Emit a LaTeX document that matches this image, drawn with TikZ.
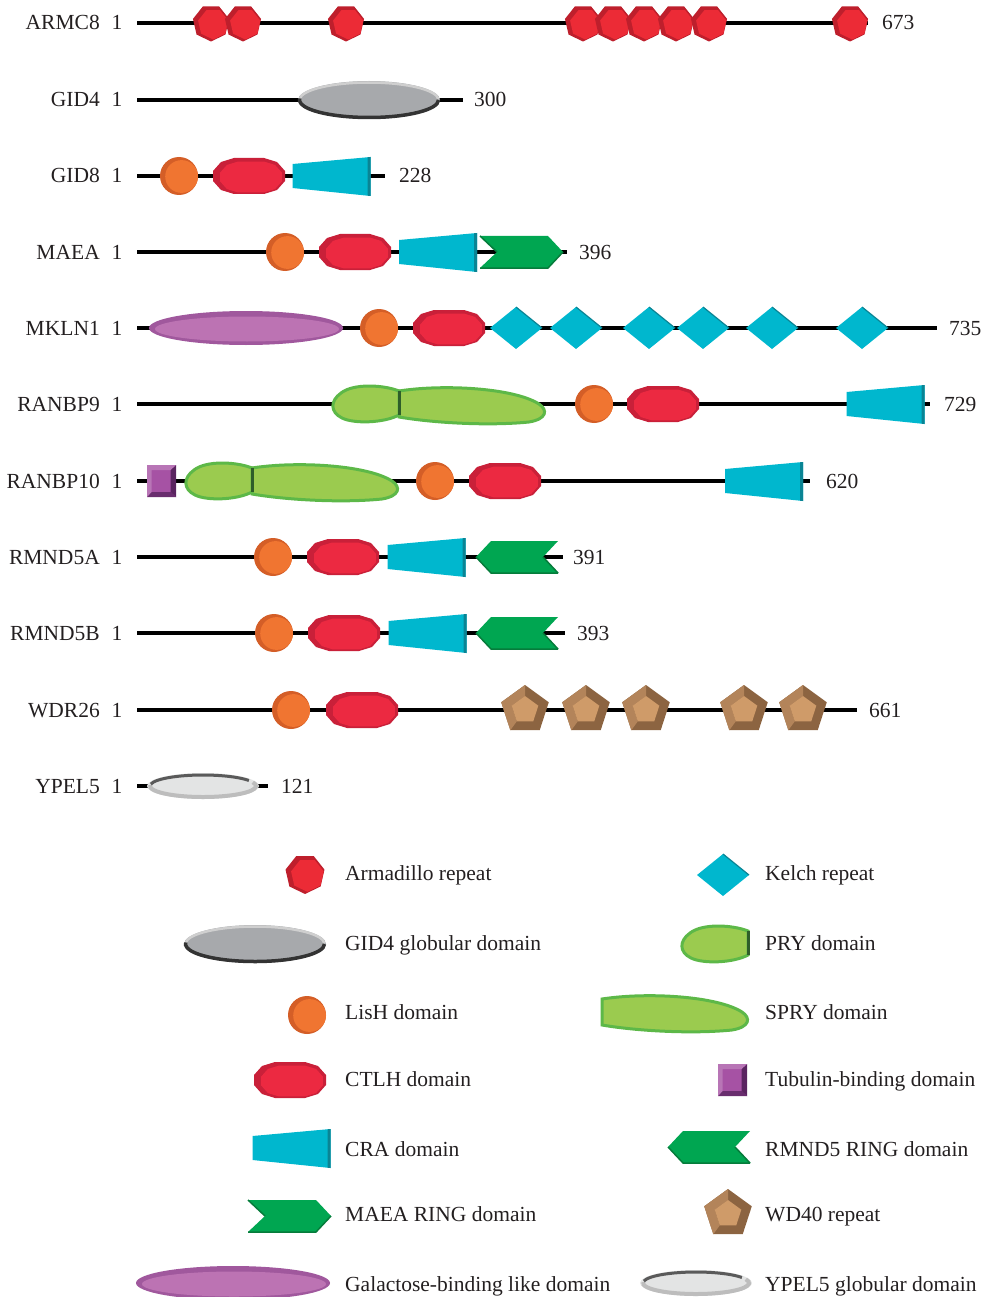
\documentclass[tikz,border=0pt]{standalone}
\usepackage{fontspec}
\setmainfont{Liberation Serif}
\definecolor{txt}{HTML}{231F20}
\definecolor{armc}{HTML}{EC2B36}
\definecolor{armdk}{HTML}{BE1F2C}
\definecolor{lishc}{HTML}{F07531}
\definecolor{lishdk}{HTML}{D45E27}
\definecolor{ctlhc}{HTML}{EC2941}
\definecolor{ctlhdk}{HTML}{C92039}
\definecolor{crac}{HTML}{00B7CE}
\definecolor{cradk}{HTML}{0A8494}
\definecolor{grn}{HTML}{00A651}
\definecolor{grndk}{HTML}{067C3B}
\definecolor{pur}{HTML}{BC73B3}
\definecolor{purdk}{HTML}{A0589D}
\definecolor{lgrn}{HTML}{9BCB4F}
\definecolor{lgrnedge}{HTML}{5DB848}
\definecolor{lgrndk}{HTML}{2E5E2A}
\definecolor{brownc}{HTML}{CF9B69}
\definecolor{brownmid}{HTML}{B3845A}
\definecolor{browndk}{HTML}{8C6441}
\definecolor{grayc}{HTML}{A7A9AC}
\definecolor{graydk}{HTML}{333333}
\definecolor{graylt}{HTML}{CFCFCF}
\definecolor{ypelc}{HTML}{E3E4E4}
\definecolor{ypeldk}{HTML}{5A5A5A}
\definecolor{ypellt}{HTML}{BDBDBD}
\definecolor{tubc}{HTML}{A652A4}
\definecolor{tubdk}{HTML}{5A2460}
\def\ctlhpath{(-36,-5)--(-28,-14)--(-15,-18)--(15,-18)--(28,-14)--(36,-5)--(36,5)--(28,14)--(15,18)--(-15,18)--(-28,14)--(-36,5)--cycle}
\def\prypath{(0,-13) .. controls (-15,-19) and (-45,-21) .. (-58,-11) .. controls (-69,-3) and (-69,8) .. (-57,14) .. controls (-45,20) and (-15,19) .. (0,11) -- cycle}
\def\sprypath{(0,-13) .. controls (45,-20) and (115,-16) .. (140,0) .. controls (149,6) and (148,15) .. (130,18) .. controls (90,22) and (35,19) .. (0,13) -- cycle}
\tikzset{
  lbl/.style={font=\fontsize{21.5}{25}\selectfont, text=txt, inner sep=0pt},
  bb/.style={line width=3.5pt, black},
  arm/.pic={
    \fill[armdk] (90:18.5) \foreach \a in {141.4,192.8,244.2,295.7,347.1,398.5}{ -- (\a:18.5)} -- cycle;
    \fill[armc,shift={(2.2,1)}] (90:15.5) \foreach \a in {141.4,192.8,244.2,295.7,347.1,398.5}{ -- (\a:15.5)} -- cycle;
  },
  lish/.pic={
    \fill[lishdk] (0,0) circle (19);
    \fill[lishc] (2.6,0.5) circle (16.4);
  },
  ctlh/.pic={
    \fill[ctlhdk] \ctlhpath;
    \fill[ctlhc,shift={(2,1)},scale=0.86] \ctlhpath;
  },
  cra/.pic={
    \fill[crac] (-39,-12)--(39,-19)--(39,20)--(-39,12)--cycle;
    \fill[cradk] (36,-18.7)--(39,-19)--(39,20)--(36,19.7)--cycle;
  },
  kelch/.pic={
    \fill[crac] (-26,0)--(0,-21)--(26,0)--(0,21)--cycle;
    \draw[cradk,line width=1.2pt] (0,-21)--(26,0);
  },
  wd/.pic={
    \fill[browndk] (-90:25)--(-18:25)--(54:25)--(126:25)--(198:25)--cycle;
    \fill[brownmid] (126:25)--(198:25)--(-90:25)--(-90:14)--(198:14)--(126:14)--cycle;
    \fill[brownc] (-90:14)--(-18:14)--(54:14)--(126:14)--(198:14)--cycle;
  },
  maea/.pic={
    \fill[grn] (0,-16)--(68,-16)--(83,0)--(68,16)--(0,16)--(17,0)--cycle;
    \draw[grndk,line width=1.5pt,line join=round] (0,16)--(68,16)--(83,0);
    \draw[grndk,line width=1.5pt] (0,-16)--(17,0);
  },
  rmnd/.pic={
    \fill[grn] (0,0)--(15,-16)--(82,-16)--(67,0)--(82,16)--(15,16)--cycle;
    \draw[grndk,line width=1.5pt,line join=round] (0,0)--(15,16)--(82,16);
    \draw[grndk,line width=1.5pt] (67,0)--(82,16);
  },
  gid/.pic={
    \fill[grayc] (0,0) ellipse [x radius=71, y radius=19];
    \draw[graylt,line width=2.5pt] (182:69.5 and 17.5) arc[start angle=182, end angle=358, x radius=69.5, y radius=17.5];
    \draw[graydk,line width=3.5pt] (0:69.5 and 17.5) arc[start angle=0, end angle=185, x radius=69.5, y radius=17.5];
  },
  ypel/.pic={
    \fill[ypelc] (0,0) ellipse [x radius=56, y radius=13];
    \draw[ypellt,line width=4pt] (-20:53 and 11) arc[start angle=-20, end angle=185, x radius=53, y radius=11];
    \draw[ypeldk,line width=3pt] (190:53 and 11) arc[start angle=190, end angle=330, x radius=53, y radius=11];
  },
  galac/.pic={
    \fill[purdk] (0,0) ellipse [x radius=97, y radius=17];
    \fill[pur] (1,1) ellipse [x radius=92, y radius=12.5];
  },
  tub/.pic={
    \fill[tubc] (-14.5,-16) rectangle (14.5,16);
    \fill[tubdk] (9,-11)--(14.5,-16)--(14.5,16)--(9,11)--cycle;
    \fill[tubdk!80!tubc] (-14.5,16)--(14.5,16)--(9,11)--(-10,11)--cycle;
    \fill[tubc!80!white] (-14.5,-16)--(14.5,-16)--(9,-11)--(-10,-11)--(-10,11)--(-14.5,16)--cycle;
  },
  pry/.pic={
    \filldraw[fill=lgrn,draw=lgrnedge,line width=3pt] \prypath;
    \draw[lgrndk,line width=3pt] (0,-13)--(0,11);
  },
  spry/.pic={
    \filldraw[fill=lgrn,draw=lgrnedge,line width=3pt] \sprypath;
  },
}
\newcommand\prot[5]{%
  \node[lbl,anchor=base east] (n#1) at (100,#2+7) {#1};
  \node[lbl,anchor=base] (o#1) at (117,#2+7) {1};
  \node[lbl,anchor=base west] (e#1) at (#5,#2+7) {#4};
  \coordinate (s#1) at (137,#2);
  \coordinate (t#1) at (#3,#2);
  \draw[bb] (s#1) -- (t#1);
}
\begin{document}
\begin{tikzpicture}[x=1pt,y=-1pt]
\useasboundingbox (0,0) rectangle (984,1297);
% ARMC8
\prot{ARMC8}{23}{868}{673}{882}
\foreach \x in {211,243,346,583,613,644,676,709,850} \pic at (\x,23) {arm};
% GID4
\prot{GID4}{100}{463}{300}{474}
\pic at (369,100) {gid};
% GID8
\prot{GID8}{176}{385}{228}{399}
\pic at (179,176) {lish};
\pic at (249,176) {ctlh};
\pic at (331.5,176) {cra};
% MAEA
\prot{MAEA}{252}{567}{396}{579}
\pic at (285,252) {lish};
\pic at (355,252) {ctlh};
\pic at (438,252) {cra};
\pic at (480,252) {maea};
% MKLN1
\prot{MKLN1}{328}{937}{735}{949}
\pic at (246,328) {galac};
\pic at (379,328) {lish};
\pic at (449,328) {ctlh};
\foreach \x in {516,576,649,703,772,862} \pic at (\x,328) {kelch};
% RANBP9
\prot{RANBP9}{404}{930}{729}{944}
\pic at (399,404) {spry};
\pic at (399,404) {pry};
\pic at (594,404) {lish};
\pic at (663,404) {ctlh};
\pic at (885.5,404) {cra};
% RANBP10
\prot{RANBP10}{481}{810}{620}{826}
\pic at (161.5,481) {tub};
\pic at (252,481) {spry};
\pic at (252,481) {pry};
\pic at (435,481) {lish};
\pic at (505,481) {ctlh};
\pic at (764,481) {cra};
% RMND5A
\prot{RMND5A}{557}{563}{391}{573}
\pic at (273,557) {lish};
\pic at (343,557) {ctlh};
\pic at (426.5,557) {cra};
\pic at (476,557) {rmnd};
% RMND5B
\prot{RMND5B}{633}{565}{393}{577}
\pic at (274,633) {lish};
\pic at (344,633) {ctlh};
\pic at (427.5,633) {cra};
\pic at (476,633) {rmnd};
% WDR26
\prot{WDR26}{710}{857}{661}{869}
\pic at (291,710) {lish};
\pic at (362,710) {ctlh};
\foreach \x in {525,586,646,744,803} \pic at (\x,710) {wd};
% YPEL5
\prot{YPEL5}{786}{268}{121}{281}
\pic at (203,786) {ypel};
% Legend left
\pic[scale=1.08] at (305,874) {arm};
\pic at (255,944) {gid};
\pic at (307,1015) {lish};
\pic at (290,1080) {ctlh};
\pic at (291.5,1148) {cra};
\pic at (248,1216) {maea};
\pic at (233,1283) {galac};
\node[lbl,anchor=base west] (l1) at (345,880) {Armadillo repeat};
\node[lbl,anchor=base west] (l2) at (345,950) {GID4 globular domain};
\node[lbl,anchor=base west] (l3) at (345,1019) {LisH domain};
\node[lbl,anchor=base west] (l4) at (345,1086) {CTLH domain};
\node[lbl,anchor=base west] (l5) at (345,1156) {CRA domain};
\node[lbl,anchor=base west] (l6) at (345,1221) {MAEA RING domain};
\node[lbl,anchor=base west] (l7) at (345,1291) {Galactose-binding like domain};
% Legend right
\pic at (723,875) {kelch};
\pic at (748,944) {pry};
\pic at (602,1012) {spry};
\pic at (732.5,1080) {tub};
\pic at (668,1147) {rmnd};
\pic at (728,1214) {wd};
\pic at (696,1283) {ypel};
\node[lbl,anchor=base west] (r1) at (765,880) {Kelch repeat};
\node[lbl,anchor=base west] (r2) at (765,950) {PRY domain};
\node[lbl,anchor=base west] (r3) at (765,1019) {SPRY domain};
\node[lbl,anchor=base west] (r4) at (765,1086) {Tubulin-binding domain};
\node[lbl,anchor=base west] (r5) at (765,1156) {RMND5 RING domain};
\node[lbl,anchor=base west] (r6) at (765,1221) {WD40 repeat};
\node[lbl,anchor=base west] (r7) at (765,1291) {YPEL5 globular domain};
\end{tikzpicture}
\end{document}
